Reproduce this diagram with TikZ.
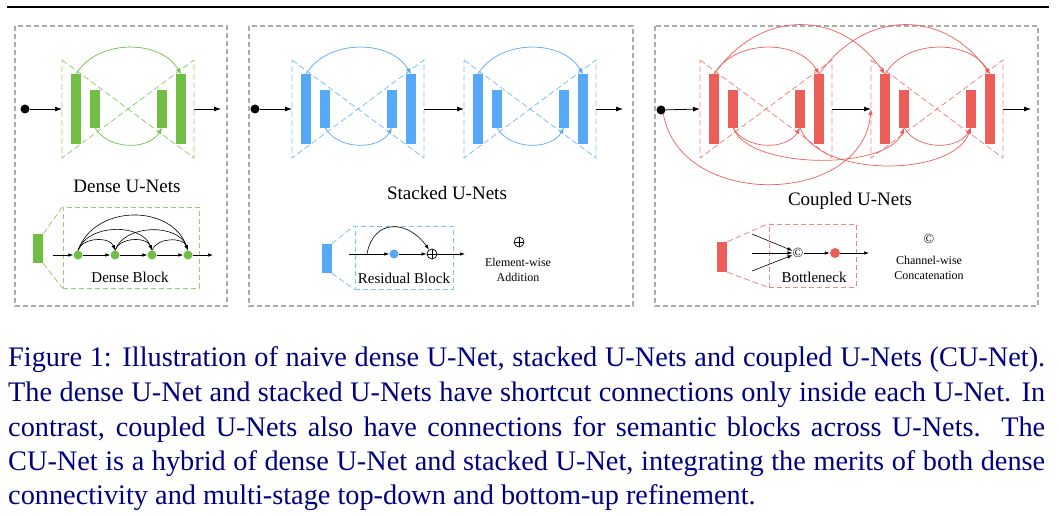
\documentclass[tikz,border=0pt]{standalone}
\usepackage{fontspec}
\setmainfont{Liberation Serif}
\usetikzlibrary{arrows.meta}

\definecolor{ugreen}{RGB}{112,190,68}
\definecolor{ublue}{RGB}{86,168,248}
\definecolor{ured}{RGB}{236,94,88}
\definecolor{capblue}{RGB}{0,0,128}

\tikzset{
  panel/.style={draw=gray!65, line width=1.2pt, dash pattern=on 5pt off 3pt},
  hourglass/.style={line width=0.8pt, dash pattern=on 6pt off 3pt},
  zoombox/.style={draw, line width=0.9pt, dash pattern=on 5pt off 3pt, inner sep=0pt},
  bar/.style={rectangle, inner sep=0pt, minimum width=10pt},
  unit/.style={circle, inner sep=0pt, minimum size=9pt},
  flow/.style={-{Latex[length=7pt,width=5pt]}, line width=0.8pt},
  thinflow/.style={-{Latex[length=5pt,width=3.5pt]}, line width=0.6pt},
  skip/.style={-{Latex[length=6pt,width=4.5pt]}, line width=0.7pt},
  addsym/.style={circle, draw, line width=0.7pt, minimum size=10pt, inner sep=0pt,
    path picture={\draw[line width=0.7pt]
      (path picture bounding box.north) -- (path picture bounding box.south)
      (path picture bounding box.west) -- (path picture bounding box.east);}},
  title/.style={font=\fontsize{19}{22}\selectfont},
  blocklabel/.style={font=\fontsize{15}{18}\selectfont},
  legend/.style={font=\fontsize{12}{15}\selectfont, align=center, inner sep=0pt},
  caption/.style={font=\fontsize{28.3}{35}\selectfont, text=capblue, anchor=base west, inner sep=0pt},
}

% one U-Net: name, left edge, bar colour, dashed colour
\newcommand{\unet}[4]{%
  \draw[hourglass, #4] (#2,60) -- (#2+132,158) -- (#2+132,60) -- (#2,158) -- cycle;
  \node[bar, fill=#3, minimum height=69pt] (#1-ol) at (#2+14,109) {};
  \node[bar, fill=#3, minimum height=37pt] (#1-il) at (#2+33,109) {};
  \node[bar, fill=#3, minimum height=37pt] (#1-ir) at (#2+100,109) {};
  \node[bar, fill=#3, minimum height=69pt] (#1-or) at (#2+119,109) {};
  \coordinate (#1-in) at (#2,109);
  \coordinate (#1-out) at (#2+132,109);
}

\begin{document}
\begin{tikzpicture}[x=1pt, y=-1pt]
\useasboundingbox (0,0) rectangle (1059,516);
%
\draw[line width=1.5pt] (7,7) -- (1049,7);
\draw[panel] (15,26) rectangle (227,306);
\draw[panel] (249,26) rectangle (633,306);
\draw[panel] (655,26) rectangle (1038,306);
%
% dense U-Net
\unet{d}{62}{ugreen}{ugreen!75}
\node[unit, fill=black] (d-src) at (25,109) {};
\coordinate (d-end) at (221,109);
\draw[flow] (d-src) -- (d-in);
\draw[flow] (d-out) -- (d-end);
\draw[skip, ugreen] (d-ol.north) to[out=60, in=120] (d-or.north);
\draw[skip, ugreen] (d-il.south) to[out=-60, in=-120] (d-ir.south);
\node[title] (d-title) at (127,186) {Dense U-Nets};
%
% dense block
\node[bar, fill=ugreen, minimum height=29pt] (db-bar) at (38,248.5) {};
\node[zoombox, draw=ugreen!75, minimum width=136pt, minimum height=81pt] (db-box) at (131,247.5) {};
\draw[hourglass, ugreen!75] (db-bar.north east) -- (db-box.north west);
\draw[hourglass, ugreen!75] (db-bar.south east) -- (db-box.south west);
\foreach \i/\x in {1/78, 2/115, 3/152, 4/188}
  \node[unit, fill=ugreen] (db-\i) at (\x,255) {};
\coordinate (db-in) at (53,255);
\coordinate (db-out) at (213,255);
\draw[thinflow] (db-in) -- (db-1);
\foreach \a/\b in {1/2, 2/3, 3/4}
  \draw[thinflow] (db-\a) -- (db-\b);
\draw[thinflow] (db-4) -- (db-out);
\foreach \a/\b/\l in {1/2/1, 2/3/1, 3/4/1, 1/3/1, 2/4/1, 1/4/1.15}
  \draw[thinflow] (db-\a.north) to[out=70, in=110, looseness=\l] (db-\b.north);
\node[blocklabel] (db-label) at (130,277) {Dense Block};
%
% stacked U-Nets
\unet{s1}{292}{ublue}{ublue!75}
\unet{s2}{464}{ublue}{ublue!75}
\node[unit, fill=black] (s-src) at (255,109) {};
\coordinate (s-end) at (623,109);
\draw[flow] (s-src) -- (s1-in);
\draw[flow] (s1-out) -- (s2-in);
\draw[flow] (s2-out) -- (s-end);
\foreach \u in {s1, s2} {
  \draw[skip, ublue] (\u-ol.north) to[out=60, in=120] (\u-or.north);
  \draw[skip, ublue] (\u-il.south) to[out=-60, in=-120] (\u-ir.south);
}
\node[title] (s-title) at (447,193) {Stacked U-Nets};
%
% residual block
\node[bar, fill=ublue, minimum height=29pt] (rb-bar) at (326.5,258.5) {};
\node[zoombox, draw=ublue!75, minimum width=98pt, minimum height=63pt] (rb-box) at (404,257.5) {};
\draw[hourglass, ublue!75] (rb-bar.north east) -- (rb-box.north west);
\draw[hourglass, ublue!75] (rb-bar.south east) -- (rb-box.south west);
\coordinate (rb-in) at (349,254);
\coordinate (rb-fork) at (367,254);
\coordinate (rb-out) at (465,254);
\node[unit, fill=ublue] (rb-dot) at (394,254) {};
\node[addsym] (rb-add) at (432,254) {};
\draw[thinflow] (rb-in) -- (rb-dot);
\draw[thinflow] (rb-dot) -- (rb-add);
\draw[thinflow] (rb-add) -- (rb-out);
\draw[thinflow] (rb-fork) to[out=80, in=125, looseness=1.5] (rb-add);
\node[blocklabel] (rb-label) at (404,278) {Residual Block};
\node[addsym] (ew-sym) at (519,242) {};
\node[legend] (ew-text) at (518,270) {Element-wise\\Addition};
%
% coupled U-Nets
\unet{c1}{700}{ured}{ured!75}
\unet{c2}{871}{ured}{ured!75}
\node[unit, fill=black] (c-src) at (661,110) {};
\coordinate (c-end) at (1031,109);
\draw[flow] (c-src) -- (c1-in);
\draw[flow] (c1-out) -- (c2-in);
\draw[flow] (c2-out) -- (c-end);
\foreach \u in {c1, c2} {
  \draw[skip, ured] (\u-ol.north) to[out=60, in=120] (\u-or.north);
  \draw[skip, ured] (\u-il.south) to[out=-60, in=-120] (\u-ir.south);
}
\draw[skip, ured] (c1-ol.north) to[out=55, in=125, looseness=1.2] (c2-ol.north);
\draw[skip, ured] (c1-or.north) to[out=55, in=125, looseness=1.2] (c2-or.north);
\draw[skip, ured] (c1-il.south) to[out=-70, in=-110, looseness=0.68] (c2-il.south);
\draw[skip, ured] (c1-ir.south) to[out=-70, in=-110, looseness=0.8] (c2-ir.south);
\draw[skip, ured] (c-src.-60) to[out=-80, in=-95, looseness=1.2] (c2-in);
\node[title] (c-title) at (850,201) {Coupled U-Nets};
%
% bottleneck
\node[bar, fill=ured, minimum height=30pt] (bn-bar) at (722,257) {};
\node[zoombox, draw=ured!75, minimum width=87pt, minimum height=63pt] (bn-box) at (812.5,255.5) {};
\draw[hourglass, ured!75] (bn-bar.north east) -- (bn-box.north west);
\draw[hourglass, ured!75] (bn-bar.south east) -- (bn-box.south west);
\node[legend, font=\fontsize{14}{15}\selectfont] (bn-cat) at (798,253) {\textcopyright};
\node[unit, fill=ured, minimum size=10pt] (bn-dot) at (835,253) {};
\coordinate (bn-a) at (752,234);
\coordinate (bn-b) at (752,253);
\coordinate (bn-c) at (752,271);
\coordinate (bn-out) at (869,253);
\foreach \p in {a, b, c}
  \draw[thinflow] (bn-\p) -- (bn-cat);
\draw[thinflow] (bn-cat) -- (bn-dot);
\draw[thinflow] (bn-dot) -- (bn-out);
\node[blocklabel] (bn-label) at (814,277) {Bottleneck};
\node[legend, font=\fontsize{14}{15}\selectfont] (cw-sym) at (929,239) {\textcopyright};
\node[legend] (cw-text) at (929,268) {Channel-wise\\Concatenation};
%
% caption
\node[caption] (cap-1) at (8,366) {\makebox[1037pt][s]{Figure 1: Illustration of naive dense U-Net, stacked U-Nets and coupled U-Nets (CU-Net).}};
\node[caption] (cap-2) at (8,401) {\makebox[1037pt][s]{The dense U-Net and stacked U-Nets have shortcut connections only inside each U-Net. In}};
\node[caption] (cap-3) at (8,436) {\makebox[1037pt][s]{contrast, coupled U-Nets also have connections for semantic blocks across U-Nets.\ \ The}};
\node[caption] (cap-4) at (8,470) {\makebox[1037pt][s]{CU-Net is a hybrid of dense U-Net and stacked U-Net, integrating the merits of both dense}};
\node[caption] (cap-5) at (8,504) {connectivity and multi-stage top-down and bottom-up refinement.};
\end{tikzpicture}
\end{document}
